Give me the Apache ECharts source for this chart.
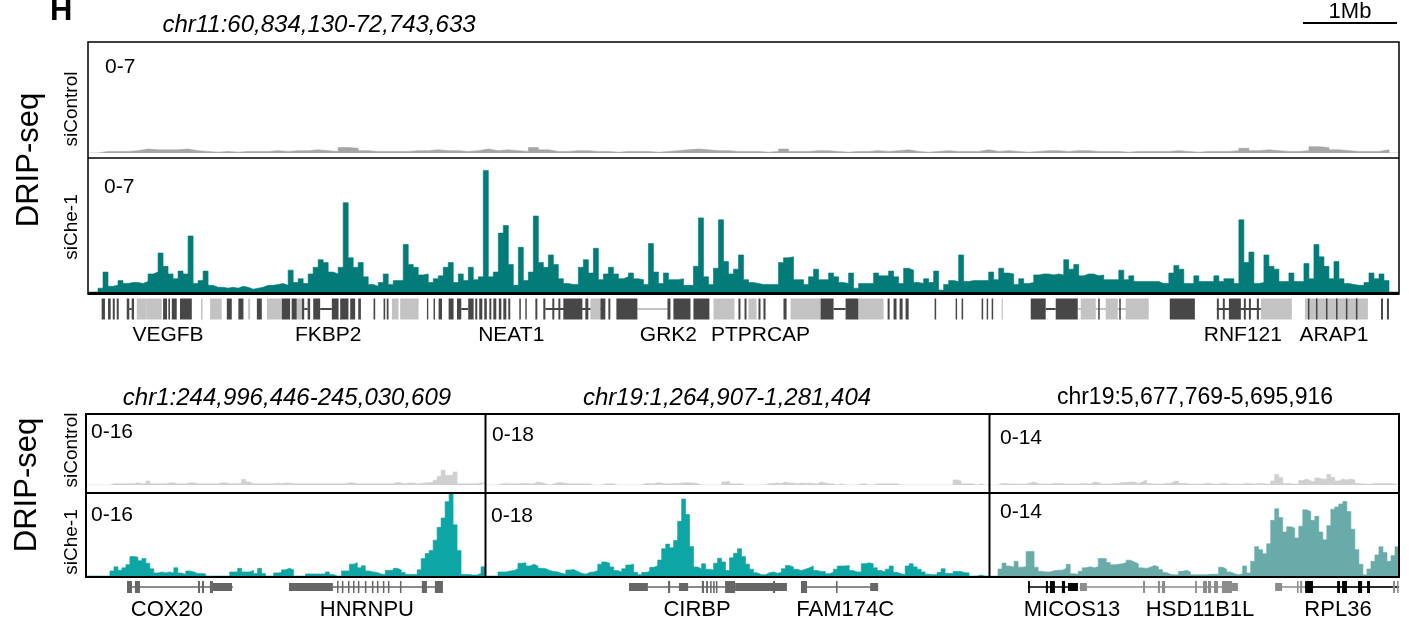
<!DOCTYPE html>
<html>
<head>
<meta charset="utf-8">
<title>DRIP-seq tracks</title>
<script src="https://cdn.jsdelivr.net/npm/echarts@6/dist/echarts.min.js"></script>
<style>
  html, body { margin: 0; padding: 0; background: #fff; }
  #chart { width: 1409px; height: 618px; }
</style>
</head>
<body>
<div id="chart"></div>
<script>
// ---------- data ----------
// top region chr11:60,834,130-72,743,633, positions in kb from window start
const topLenKb = 11909.5
// siControl, 131 bins
const topControl = [
  0, 0.1, 0.1, 0.1, 0.15, 0.25, 0.2, 0.2, 0.2, 0.25,
  0.15, 0.1, 0.05, 0.1, 0.05, 0.1, 0.1, 0.1, 0.15, 0.1,
  0.15, 0.15, 0.2, 0.15, 0.1, 0.35, 0.3, 0.15, 0.1, 0.1,
  0.1, 0.1, 0.15, 0.15, 0.2, 0.15, 0.15, 0.1, 0.15, 0.25,
  0.15, 0.2, 0.15, 0.1, 0.35, 0.2, 0.1, 0.1, 0.15, 0.15,
  0.1, 0.1, 0.05, 0.1, 0.1, 0.1, 0.05, 0.1, 0.15, 0.2,
  0.25, 0.2, 0.15, 0.15, 0.1, 0.1, 0.1, 0.05, 0.1, 0.25,
  0.1, 0.1, 0.15, 0.15, 0.1, 0.05, 0.1, 0.1, 0.15, 0.1,
  0.15, 0.2, 0.1, 0.05, 0.1, 0.15, 0.1, 0.1, 0.1, 0.2,
  0.1, 0.15, 0.1, 0.05, 0.1, 0.15, 0.15, 0.1, 0.15, 0.15,
  0.1, 0.1, 0.1, 0.05, 0.1, 0.1, 0.1, 0.1, 0.15, 0.1,
  0.05, 0.1, 0.1, 0.1, 0.15, 0.3, 0.15, 0.2, 0.15, 0.1,
  0.1, 0.15, 0.4, 0.35, 0.2, 0.15, 0.1, 0.1, 0.1, 0.2, 0
]
// siChe-1, 262 bins
const topChe1 = [
  0, 0, 0.2, 1.05, 0.3, 0.35, 0.6, 0.45, 0.5, 0.5,
  0.45, 0.55, 0.95, 1.05, 2.05, 1.35, 0.95, 0.7, 1.1, 0.95,
  2.95, 0.45, 0.6, 1.1, 0.35, 0.25, 0.25, 0.2, 0.25, 0.2,
  0.3, 0.25, 0.15, 0.2, 0.25, 0.35, 0.35, 0.4, 0.45, 0.35,
  1.15, 0.5, 0.7, 0.45, 0.95, 1.3, 1.7, 1.55, 1.05, 0.95,
  1.3, 4.7, 1.8, 1.3, 1.55, 0.8, 0.4, 0.3, 0.5, 0.95,
  0.4, 0.6, 0.6, 2.5, 1.45, 1.3, 0.9, 0.95, 0.5, 0.7,
  0.85, 1.3, 1.55, 0.5, 0.95, 0.6, 1.3, 0.65, 0.8, 6.4,
  0.8, 1.05, 3.1, 3.5, 1.45, 0.35, 2.35, 0.6, 1.05, 4.0,
  1.55, 1.3, 1.95, 1.45, 0.7, 0.45, 0.4, 0.4, 1.3, 1.7,
  1.0, 2.3, 0.65, 0.95, 1.3, 0.95, 0.7, 0.8, 1.0, 0.7,
  0.65, 0.4, 2.55, 1.05, 0.45, 1.0, 0.65, 0.65, 0.7, 0.35,
  0.35, 1.35, 3.9, 0.8, 0.4, 1.25, 3.8, 1.6, 0.95, 1.2,
  1.95, 0.65, 0.5, 0.45, 0.4, 0.4, 0.4, 0.4, 1.55, 1.8,
  1.85, 0.65, 0.65, 0.4, 0.8, 1.2, 0.65, 0.65, 1.0, 0.8,
  0.5, 0.45, 1.0, 0.2, 0.45, 0.45, 0.45, 1.0, 0.85, 0.85,
  1.1, 0.8, 0.45, 1.25, 1.15, 0.5, 0.45, 0.7, 0.5, 1.1,
  0.1, 0.4, 0.6, 0.55, 1.95, 0.55, 0.6, 0.6, 0.6, 0.6,
  1.05, 0.65, 1.25, 1.0, 0.95, 0.4, 0.7, 0.45, 0.5, 0.9,
  0.95, 0.95, 0.9, 0.95, 0.9, 1.7, 1.2, 1.45, 0.85, 0.95,
  0.95, 0.85, 0.9, 0.65, 0.65, 0.65, 1.15, 0.65, 0.85, 0.55,
  0.55, 0.55, 0.55, 0.55, 0.45, 0.45, 1.0, 1.4, 1.2, 0.45,
  0.45, 0.85, 0.55, 0.55, 0.55, 0.85, 0.55, 0.7, 0.7, 0.45,
  3.8, 1.55, 2.1, 0.45, 0.5, 1.95, 1.35, 1.2, 0.55, 0.55,
  1.0, 0.55, 0.55, 1.5, 0.7, 2.5, 1.85, 1.35, 0.7, 1.6,
  0.7, 0.45, 0.4, 0.35, 0.35, 0.5, 1.0, 0.7, 0.95, 0.6,
  0, 0
]
// gene features [startKb, endKb, kind]; kind: d/l = dark/light, E/U/L = exon/utr/line
const topGenes = [
  [375, 397, 'dL'], [1964, 1995, 'dL'], [2109, 2215, 'dL'], [3391, 3454, 'dL'],
  [4155, 4655, 'dL'], [4991, 5264, 'lL'], [6773, 6882, 'dL'], [8700, 8791, 'dL'],
  [8991, 9636, 'lL'], [10255, 10655, 'dL'],
  [124, 154, 'dE'], [182, 206, 'dE'], [225, 243, 'dE'], [261, 279, 'dE'],
  [352, 375, 'dE'], [397, 418, 'dE'], [443, 534, 'lE'], [534, 670, 'lE'],
  [682, 718, 'dE'], [730, 745, 'dE'], [761, 806, 'dE'], [836, 943, 'dE'],
  [1027, 1041, 'lE'], [1109, 1215, 'lE'], [1261, 1306, 'dE'], [1366, 1412, 'dE'],
  [1455, 1473, 'lE'], [1534, 1579, 'dE'], [1625, 1761, 'lE'], [1761, 1836, 'dE'],
  [1850, 1897, 'dE'], [1897, 1943, 'lE'], [1943, 1964, 'dE'], [1995, 2018, 'dE'],
  [2046, 2109, 'dE'], [2215, 2276, 'dE'], [2291, 2366, 'dE'], [2382, 2427, 'dE'],
  [2455, 2479, 'dE'], [2594, 2609, 'dE'], [2685, 2700, 'dE'], [2714, 2730, 'dE'],
  [2761, 2821, 'lE'], [2836, 3003, 'lE'], [3079, 3091, 'dE'], [3139, 3152, 'dE'],
  [3185, 3216, 'dE'], [3276, 3321, 'dE'], [3352, 3391, 'dE'], [3454, 3503, 'dE'],
  [3518, 3536, 'dE'], [3554, 3582, 'dE'], [3600, 3623, 'dE'], [3646, 3664, 'dE'],
  [3682, 3709, 'dE'], [3732, 3755, 'dE'], [3773, 3800, 'dE'], [3818, 3836, 'dE'],
  [3918, 3932, 'dE'], [3973, 3986, 'dE'], [4064, 4082, 'dE'], [4136, 4155, 'dE'],
  [4218, 4236, 'dE'], [4273, 4291, 'dE'], [4318, 4491, 'dE'], [4518, 4545, 'dE'],
  [4564, 4655, 'lE'], [4655, 4700, 'dE'], [4727, 4745, 'dE'], [4800, 4991, 'dE'],
  [5264, 5291, 'dE'], [5318, 5473, 'dE'], [5500, 5645, 'dE'], [5682, 5873, 'lE'],
  [5909, 5927, 'dE'], [5964, 5982, 'dE'], [6000, 6073, 'lE'], [6091, 6109, 'dE'],
  [6136, 6155, 'dE'], [6318, 6346, 'dE'], [6382, 6655, 'lE'], [6655, 6773, 'dE'],
  [6882, 7000, 'dE'], [7000, 7227, 'lE'], [7264, 7282, 'dE'], [7318, 7345, 'dE'],
  [7373, 7400, 'dE'], [7427, 7455, 'dE'], [7691, 7705, 'dE'], [7882, 7895, 'dE'],
  [7936, 7950, 'dE'], [8118, 8132, 'dE'], [8164, 8177, 'dE'], [8209, 8223, 'dE'],
  [8300, 8309, 'lE'], [8564, 8700, 'dE'], [8791, 8991, 'dE'], [9018, 9155, 'lE'],
  [9245, 9355, 'lE'], [9427, 9636, 'lE'], [9177, 9191, 'dE'], [9368, 9382, 'dE'],
  [9827, 10055, 'dE'], [10255, 10273, 'dE'], [10309, 10327, 'dE'], [10364, 10473, 'dE'],
  [10500, 10518, 'dE'], [10546, 10564, 'dE'], [10618, 10637, 'dE'], [10655, 10936, 'lE'],
  [11055, 11627, 'lE'], [11082, 11096, 'dE'], [11155, 11169, 'dE'], [11246, 11260, 'dE'],
  [11337, 11351, 'dE'], [11427, 11441, 'dE'], [11518, 11532, 'dE'], [11746, 11764, 'dE'],
  [11800, 11818, 'dE']
]
const topLabels = [
  ['VEGFB', 727], ['FKBP2', 2182], ['NEAT1', 3845], ['GRK2', 5273],
  ['PTPRCAP', 6109], ['RNF121', 10491], ['ARAP1', 11318]
]

// panel 1 chr1:244,996,446-245,030,609
const p1LenKb = 34.163
const p1Control = [
  0, 0, 0, 0, 0, 0, 0.3, 0.3, 0.3, 0.3,
  0.3, 0.3, 0.5, 0.3, 0.3, 0.9, 0.3, 0.3, 0.3, 0.3,
  0.5, 0.5, 0.3, 0.3, 0.3, 0.5, 0.5, 0.3, 0.3, 0.3,
  0.3, 0.3, 0.3, 0.5, 0.5, 0.3, 0.3, 0.3, 0.4, 1.3,
  0.7, 0.3, 0.3, 0.3, 0.3, 0.3, 0.3, 0.45, 0.3, 0.45,
  0.45, 0.3, 0.3, 0.3, 0.3, 0.3, 0.3, 0.3, 0.3, 0.3,
  0.3, 0.3, 0.3, 0.3, 0.3, 0.5, 0.5, 0.3, 0.3, 0.3,
  0.3, 0.3, 0.3, 0.3, 0.3, 0.3, 0.3, 0.6, 0.45, 0.3,
  0.45, 0.45, 0.3, 0.3, 0.5, 0.5, 0.6, 1.1, 2.0, 3.4,
  2.2, 2.3, 3.0, 0.3, 0.3, 0.3, 0.3, 0.3, 0.45, 0.45
]
const p1Che1 = [
  0, 0, 0, 0, 0, 0, 1.0, 1.8, 1.1, 1.6,
  2.2, 3.8, 3.7, 3.0, 3.4, 2.5, 1.4, 0.6, 0.8, 0.6,
  0.8, 0.6, 1.6, 0.6, 0.3, 1.0, 0.8, 0.5, 0.5, 0.4,
  0, 0, 0, 0, 0, 0, 0.8, 0.8, 1.5, 0.8,
  0.8, 1.1, 0.5, 1.5, 0.5, 0, 0, 0.6, 0.7, 1.2,
  1.5, 1.2, 0, 0, 0, 0.4, 0.4, 0.4, 0.4, 0.4,
  0.8, 0.3, 0, 0, 1.0, 1.0, 2.3, 2.6, 1.6, 2.0,
  1.0, 0.8, 0.7, 0.4, 0.3, 1.1, 1.1, 1.5, 1.2, 0.7,
  0.3, 0.3, 0.3, 1.2, 3.4, 4.4, 5.0, 7.0, 9.5, 11.3,
  14.5, 16, 10, 5.0, 0.3, 0.3, 0.2, 0.2, 0.5, 1.8
]
const p1Genes = [
  [3.51, 12.58, 'dL'], [3.51, 3.94, 'dE'], [4.19, 4.62, 'dE'], [9.59, 9.76, 'dE'],
  [9.93, 10.10, 'dE'], [10.61, 10.87, 'dE'], [10.87, 12.50, 'dU'],
  [21.14, 30.56, 'dL'], [17.38, 21.14, 'dU'],
  [21.49, 21.62, 'dE'], [21.91, 22.04, 'dE'], [22.43, 22.56, 'dE'], [22.86, 22.99, 'dE'],
  [23.28, 23.41, 'dE'], [23.88, 24.01, 'dE'], [24.48, 24.61, 'dE'], [24.91, 25.04, 'dE'],
  [25.42, 25.55, 'dE'], [25.85, 25.98, 'dE'], [26.88, 27.01, 'dE'],
  [28.76, 29.19, 'dE'], [29.87, 30.56, 'dE']
]
const p1Labels = [['COX20', 6.93], ['HNRNPU', 24.05]]

// panel 2 chr19:1,264,907-1,281,404
const p2LenKb = 16.497
const p2Control = [
  0, 0, 0, 0.3, 0.4, 0.3, 0.3, 0.3, 0.4, 0.4,
  0.3, 0.3, 0.8, 0.6, 0.3, 0, 0.3, 0.6, 0.6, 0.4,
  0.3, 0.3, 0.3, 0.3, 0.3, 0.3, 0, 0, 0, 0.3,
  0.3, 0.3, 0, 0, 0, 0, 0, 0, 0, 0.4,
  0.4, 0.3, 0.6, 0.5, 0.3, 0.3, 0.4, 0.4, 0.5, 0.6,
  0.6, 0.5, 0.4, 0, 0, 0, 0, 0, 0, 0.8,
  1.0, 0.3, 0.3, 0.3, 0, 0, 0, 0, 0, 0,
  0.4, 0.4, 0.5, 0.4, 0.8, 0.5, 0.5, 0.3, 0.5, 0.4,
  0.5, 0.4, 0.3, 0.8, 0.5, 0.3, 0.3, 0, 0.3, 0,
  0, 0, 0, 0.3, 0.3, 0, 0, 0.3, 0.3, 0.3,
  0.3, 0.3, 0.3, 0, 0, 0, 0, 0, 0, 0,
  0, 0, 0, 0, 0, 0, 0, 1.3, 1.0, 0.3,
  0.3, 0.3, 0, 0.3, 0, 0
]
const p2Che1 = [
  0, 0, 0, 0.9, 0.9, 1.1, 1.2, 1.6, 2.8, 2.9,
  2.2, 2.6, 2.2, 1.7, 1.6, 1.2, 1.0, 0.9, 0.6, 0.4,
  1.3, 1.4, 1.0, 0.6, 0.4, 0.8, 0.9, 1.2, 2.6, 3.1,
  2.8, 2.0, 1.2, 0.9, 1.6, 2.4, 2.6, 0.8, 0.3, 0.8,
  1.0, 1.9, 2.2, 3.5, 6.0, 7.0, 6.2, 7.8, 12, 16.9,
  13.5, 6.5, 2.0, 1.6, 2.7, 1.5, 1.3, 2.8, 3.9, 3.1,
  1.2, 4.0, 5.0, 6.0, 4.3, 2.6, 1.5, 0.7, 0.3, 0.3,
  0.7, 0.9, 0.6, 0.8, 1.6, 2.3, 2.0, 1.5, 1.2, 1.5,
  1.8, 2.2, 1.2, 1.0, 1.0, 0.5, 0.8, 1.5, 2.2, 2.2,
  2.3, 1.2, 0.9, 0.9, 2.7, 2.9, 2.7, 1.8, 1.2, 0.9,
  1.5, 2.2, 0.8, 0.5, 0.3, 2.2, 2.7, 2.0, 1.5, 0.9,
  0.4, 0.3, 0.3, 0.8, 1.6, 0.6, 0.5, 1.0, 1.0, 0.7,
  0.7, 0, 0, 0.2, 0, 0
]
const p2Genes = [
  [5.31, 8.17, 'dL'], [10.53, 12.86, 'dL'],
  [4.69, 5.31, 'dU'], [5.97, 6.04, 'dE'], [6.33, 6.63, 'dU'],
  [7.08, 7.15, 'dE'], [7.22, 7.28, 'dE'], [7.35, 7.40, 'dE'], [7.45, 7.50, 'dE'], [7.54, 7.59, 'dE'],
  [7.84, 8.17, 'dE'], [8.17, 9.87, 'dU'], [9.41, 9.48, 'dE'],
  [10.33, 10.53, 'dE'], [11.48, 11.53, 'dE'], [12.60, 12.86, 'dU']
]
const p2Labels = [['CIRBP', 6.92], ['FAM174C', 11.78]]

// panel 3 chr19:5,677,769-5,695,916
const p3LenKb = 18.147
const p3Control = [
  0, 0, 0.3, 0.3, 0.2, 0.2, 0.2, 0.2, 0.2, 0.4,
  0.6, 0.3, 0.2, 0.2, 0.2, 0.3, 0.3, 0.3, 0.2, 0.2,
  0.2, 0.2, 0.3, 0.3, 0.2, 0.6, 0.5, 0.2, 0.2, 0.2,
  0.3, 0.3, 0.5, 0.5, 0.6, 0.6, 0.3, 0.6, 1.0, 0.3,
  0.2, 0.2, 0.2, 0.3, 0.3, 0.7, 0.8, 0.3, 0.3, 0.2,
  0.2, 0.2, 0.2, 0.3, 0.3, 0.2, 0.2, 0.3, 0.3, 0.2,
  0.2, 0.2, 0.2, 0.3, 0.3, 0.2, 0.3, 0.3, 0.2, 0.2,
  0.8, 2.1, 1.5, 0.3, 0.3, 0.2, 0.2, 0.9, 1.2, 0.8,
  0.6, 1.4, 1.2, 1.2, 2.1, 1.5, 0.8, 1.2, 1.0, 1.2,
  1.0, 0.3, 0.2, 0.2, 0.2, 0.3, 0.3, 0.3, 0.3, 0.3,
  0.2, 0.2
]
const p3Che1 = [
  0, 0, 1.2, 2.2, 1.7, 1.5, 2.5, 1.5, 1.6, 4.2,
  4.2, 1.5, 0.8, 0.7, 0.7, 0.9, 1.0, 1.0, 1.3, 2.0,
  0.4, 0.3, 0.8, 1.4, 1.6, 1.4, 1.6, 3.0, 3.0, 2.3,
  1.9, 2.0, 2.1, 2.3, 2.7, 2.4, 2.1, 1.4, 1.3, 1.5,
  1.8, 1.6, 1.1, 0.6, 0.3, 0.2, 0.2, 0.8, 1.0, 0.7,
  0.2, 0.2, 0.2, 0.2, 0.3, 0.3, 0.3, 1.5, 1.2, 0.7,
  0.4, 0.2, 0.4, 1.7, 0.5, 2.5, 5.0, 4.5, 3.8, 5.5,
  9.5, 11.5, 10.0, 7.5, 8.4, 8.2, 6.5, 8.5, 11.3, 11.0,
  9.5, 10.2, 7.5, 6.2, 8.6, 11.4, 11.8, 12.3, 12.7, 11.0,
  8.0, 4.5, 2.0, 0.2, 1.2, 2.5, 3.6, 5.0, 4.0, 2.5,
  3.5, 5.0
]
const p3Genes = [
  [1.69, 3.90, 'dL'], [3.99, 11.00, 'lL'], [12.65, 18.15, 'lL'], [13.98, 18.15, 'dL'],
  [1.69, 1.77, 'dE'], [2.48, 2.57, 'dE'], [2.66, 2.88, 'dE'], [3.19, 3.33, 'dE'], [3.46, 3.90, 'dU'],
  [3.99, 4.30, 'lU'], [6.79, 6.88, 'lE'], [7.45, 7.54, 'lE'], [7.63, 7.77, 'lE'],
  [9.10, 9.18, 'lE'], [9.45, 9.63, 'lE'], [9.67, 9.81, 'lE'], [9.94, 10.12, 'lE'],
  [10.29, 10.74, 'lE'], [10.74, 11.00, 'lU'],
  [12.65, 12.96, 'lU'], [13.62, 13.69, 'lE'], [13.76, 13.85, 'lE'],
  [13.98, 14.33, 'dE'], [15.40, 15.53, 'dE'], [15.62, 15.84, 'dE'],
  [16.33, 16.51, 'dE'], [16.73, 16.86, 'dE'], [17.88, 17.97, 'lE'], [18.06, 18.13, 'lE']
]
const p3Labels = [['MICOS13', 3.64], ['HSD11B1L', 9.32], ['RPL36', 15.44]]

// ---------- chart ----------
const FONT = '"Liberation Sans", Arial, sans-serif'

// binned signal drawn as a stepped, filled area (bin value held over the whole bin)
function signalSeries(gi, values, lenKb, color) {
  const w = lenKb / values.length
  const pts = values.map((v, i) => [i * w, v])
  pts.push([lenKb, values[values.length - 1]])
  return {
    type: 'line', xAxisIndex: gi, yAxisIndex: gi, silent: true,
    step: 'end', symbol: 'none', smooth: false,
    data: pts,
    lineStyle: { width: 0.6, color: color },
    areaStyle: { color: color, opacity: 1, origin: 'start' }
  }
}

function geneSeries(gi, genes, colors, sizes) {
  return {
    type: 'custom', xAxisIndex: gi, yAxisIndex: gi, silent: true, clip: false,
    data: genes.map(g => [g[0], g[1]]),
    encode: { x: [0, 1] },
    renderItem: (params, api) => {
      const g = genes[params.dataIndex]
      const p0 = api.coord([g[0], 0.5])
      const p1 = api.coord([g[1], 0.5])
      const h = sizes[g[2][1]]
      return {
        type: 'rect',
        shape: { x: p0[0], y: p0[1] - h / 2, width: Math.max(p1[0] - p0[0], 1.2), height: h },
        style: { fill: colors[g[2][0]] }
      }
    }
  }
}

function labelSeries(gi, labels, dy, size) {
  return {
    type: 'custom', xAxisIndex: gi, yAxisIndex: gi, silent: true, clip: false,
    data: labels.map(l => [l[1]]),
    encode: { x: 0 },
    renderItem: (params, api) => {
      const l = labels[params.dataIndex]
      const p = api.coord([l[1], 0])
      return {
        type: 'text', x: p[0], y: p[1] + dy,
        style: { text: l[0], fontSize: size, fontFamily: FONT, fill: '#000', align: 'center', verticalAlign: 'middle' }
      }
    }
  }
}

const grids = [], xAxes = [], yAxes = [], series = []
function addGrid(box, lenKb, ymax) {
  grids.push(Object.assign({ containLabel: false }, box))
  const gi = grids.length - 1
  xAxes.push({ gridIndex: gi, type: 'value', min: 0, max: lenKb, show: false })
  yAxes.push({ gridIndex: gi, type: 'value', min: 0, max: ymax, show: false })
  return gi
}

// top region
let gi = addGrid({ left: 88, top: 43, width: 1311, height: 110 }, topLenKb, 7)
series.push(signalSeries(gi, topControl, topLenKb, '#a6a6a6'))
gi = addGrid({ left: 88, top: 159, width: 1311, height: 133 }, topLenKb, 7)
series.push(signalSeries(gi, topChe1, topLenKb, '#037b78'))
gi = addGrid({ left: 88, top: 298, width: 1311, height: 22 }, topLenKb, 1)
series.push(geneSeries(gi, topGenes, { d: '#474747', l: '#c3c3c3' }, { E: 21, U: 14, L: 2 }))
series.push(labelSeries(gi, topLabels, 15, 21))

// bottom panels
const panels = [
  { left: 86, width: 399, len: p1LenKb, max: 16, control: p1Control, che1: p1Che1, genes: p1Genes, labels: p1Labels,
    color: '#0ea6a4', geneColors: { d: '#666666', l: '#999999' } },
  { left: 486, width: 503, len: p2LenKb, max: 18, control: p2Control, che1: p2Che1, genes: p2Genes, labels: p2Labels,
    color: '#0ea6a4', geneColors: { d: '#666666', l: '#999999' } },
  { left: 990, width: 409, len: p3LenKb, max: 14, control: p3Control, che1: p3Che1, genes: p3Genes, labels: p3Labels,
    color: '#69aba9', geneColors: { d: '#000000', l: '#8c8c8c' } }
]
panels.forEach(p => {
  let g = addGrid({ left: p.left, top: 415, width: p.width, height: 70 }, p.len, p.max)
  series.push(signalSeries(g, p.control, p.len, '#d0d0d0'))
  g = addGrid({ left: p.left, top: 494, width: p.width, height: 82 }, p.len, p.max)
  series.push(signalSeries(g, p.che1, p.len, p.color))
  g = addGrid({ left: p.left, top: 580, width: p.width, height: 14 }, p.len, 1)
  series.push(geneSeries(g, p.genes, p.geneColors, { E: 12, U: 8, L: 1.5 }))
  series.push(labelSeries(g, p.labels, 16, 22))
})

// texts and frames
function txt(x, y, text, size, extra) {
  return {
    type: 'text', x, y, z: 100,
    style: Object.assign({ text, fontSize: size, fontFamily: FONT, fill: '#000', align: 'left', verticalAlign: 'middle' }, extra || {})
  }
}
function vtxt(x, y, text, size) {
  const t = txt(x, y, text, size, { align: 'center' })
  t.rotation = Math.PI / 2
  return t
}
function line(x1, y1, x2, y2, w) {
  return { type: 'line', z: 100, shape: { x1, y1, x2, y2 }, style: { stroke: '#000', lineWidth: w } }
}

const graphics = [
  txt(50, 11, 'H', 31, { fontWeight: 'bold' }),
  txt(319, 25, 'chr11:60,834,130-72,743,633', 24, { align: 'center', fontStyle: 'italic' }),
  txt(1350, 12, '1Mb', 22, { align: 'center' }),
  line(1303, 23, 1397, 23, 2),
  { type: 'rect', z: 100, shape: { x: 88, y: 42, width: 1311, height: 252 }, style: { fill: 'none', stroke: '#000', lineWidth: 1.5 } },
  line(88, 158, 1399, 158, 1.5),
  line(88, 293.5, 1399, 293.5, 3),
  txt(105, 67, '0-7', 21),
  txt(104, 187, '0-7', 21),
  vtxt(72, 109, 'siControl', 19),
  vtxt(72, 227, 'siChe-1', 19),
  vtxt(29, 160, 'DRIP-seq', 31),

  txt(287, 398, 'chr1:244,996,446-245,030,609', 24, { align: 'center', fontStyle: 'italic' }),
  txt(727, 398, 'chr19:1,264,907-1,281,404', 24, { align: 'center', fontStyle: 'italic' }),
  txt(1195, 398, 'chr19:5,677,769-5,695,916', 23, { align: 'center' }),
  { type: 'rect', z: 100, shape: { x: 86, y: 414, width: 1313, height: 163 }, style: { fill: 'none', stroke: '#000', lineWidth: 2 } },
  line(86, 493, 1399, 493, 2),
  line(485.5, 414, 485.5, 577, 2),
  line(989.5, 414, 989.5, 577, 2),
  txt(91, 432, '0-16', 21), txt(91, 515, '0-16', 21),
  txt(492, 435, '0-18', 21), txt(491, 516, '0-18', 21),
  txt(1000, 438, '0-14', 21), txt(1000, 512, '0-14', 21),
  vtxt(72, 450, 'siControl', 19),
  vtxt(72, 542, 'siChe-1', 19),
  vtxt(27, 485, 'DRIP-seq', 31)
]

const chart = echarts.init(document.getElementById('chart'))
chart.setOption({
  animation: false,
  backgroundColor: '#fff',
  grid: grids,
  xAxis: xAxes,
  yAxis: yAxes,
  series,
  graphic: { elements: graphics }
})
</script>
</body>
</html>
